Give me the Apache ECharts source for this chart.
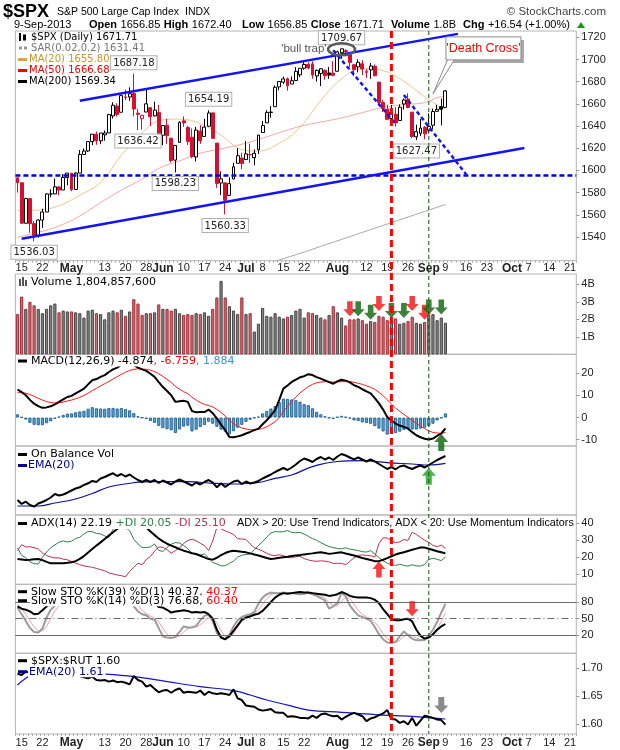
<!DOCTYPE html>
<html style="height: 100%">
<head>
<meta charset="utf-8">
</head>
<body style="height: 100%; margin: 0; background: #fff">
<div id="container" style="width: 620px; height: 750px"></div>
<script type="text/javascript" src="https://cdn.jsdelivr.net/npm/echarts@6/dist/echarts.min.js"></script>
<script type="text/javascript">
var dom = document.getElementById('container');
var myChart = echarts.init(dom);

// trading days from 12-Apr-2013, 135 slots (the last ones are empty future days)
var holidays = ['2013-05-27', '2013-07-04', '2013-09-02'];
var dates = [];
(function () {
  var d = new Date(Date.UTC(2013, 3, 12));
  while (dates.length < 135) {
    var s = d.toISOString().slice(0, 10);
    var wd = d.getUTCDay();
    if (wd !== 0 && wd !== 6 && holidays.indexOf(s) < 0) dates.push(s);
    d.setUTCDate(d.getUTCDate() + 1);
  }
})();

var xTickDates = ['2013-04-15','2013-04-22','2013-05-01','2013-05-13','2013-05-20','2013-05-28','2013-06-03','2013-06-10','2013-06-17','2013-06-24','2013-07-01','2013-07-08','2013-07-15','2013-07-22','2013-08-01','2013-08-12','2013-08-19','2013-08-26','2013-09-03','2013-09-09','2013-09-16','2013-09-23','2013-10-01','2013-10-07','2013-10-14','2013-10-21'];
var xTickText = ['15','22','May','13','20','28','Jun','10','17','24','Jul','8','15','22','Aug','12','19','26','Sep','9','16','23','Oct','7','14','21'];

var prevClose = 1593.37;
var opens = [1593.30,1588.84,1552.36,1574.57,1552.03,1541.61,1555.25,1562.50,1578.78,1578.78,
1585.16,1582.34,1593.58,1597.55,1582.77,1597.60,1614.40,1617.55,1625.95,1632.69,
1626.69,1632.10,1633.75,1649.13,1658.07,1652.45,1665.71,1666.20,1669.39,1651.62,
1646.67,1652.63,1656.57,1649.14,1652.13,1631.71,1640.73,1629.05,1609.29,1625.27,
1644.67,1638.64,1629.94,1612.15,1635.52,1630.64,1639.77,1651.83,1624.62,1588.62,
1588.77,1577.52,1592.27,1606.44,1611.12,1609.78,1614.29,1611.48,1618.65,1634.20,
1642.89,1652.28,1657.41,1675.26,1679.59,1682.70,1677.91,1681.05,1686.15,1692.09,
1695.53,1696.06,1685.21,1687.31,1690.32,1687.92,1687.76,1689.42,1706.10,1708.01,
1705.79,1695.30,1693.35,1696.10,1688.37,1690.65,1693.88,1679.61,1661.22,1655.25,
1646.81,1650.66,1645.03,1659.92,1664.29,1652.54,1630.25,1633.50,1638.89,1635.95,
1640.72,1653.28,1657.44,1656.85];
var highs = [1593.30,1588.84,1575.35,1574.57,1554.38,1555.89,1565.55,1579.58,1583.00,1592.64,
1585.78,1596.65,1597.57,1597.55,1598.60,1618.46,1619.77,1626.03,1632.78,1635.01,
1633.70,1636.00,1651.10,1661.49,1660.51,1667.47,1672.84,1674.93,1687.18,1655.50,
1649.78,1674.21,1656.57,1661.91,1658.99,1640.42,1646.53,1629.31,1622.56,1644.40,
1648.69,1640.13,1637.71,1639.25,1640.80,1646.50,1654.19,1652.45,1624.62,1599.19,
1588.77,1593.79,1606.83,1620.07,1615.94,1626.61,1624.26,1618.97,1632.07,1644.68,
1654.18,1657.92,1676.63,1680.19,1684.51,1683.73,1684.75,1693.12,1692.09,1697.61,
1697.53,1698.38,1690.94,1691.85,1690.92,1693.19,1698.43,1707.85,1709.67,1709.24,
1705.79,1695.30,1700.18,1699.42,1691.49,1696.81,1695.52,1679.61,1663.60,1659.18,
1658.92,1656.99,1659.55,1664.85,1669.51,1652.54,1641.18,1646.41,1640.08,1651.35,
1655.72,1659.17,1664.83,1672.40];
var lows = [1579.97,1552.28,1552.36,1543.69,1536.03,1539.40,1548.19,1562.50,1575.80,1578.78,
1577.56,1582.34,1586.50,1581.28,1582.77,1597.60,1614.21,1616.64,1622.70,1623.09,
1623.71,1626.74,1633.75,1646.68,1648.60,1652.45,1663.52,1662.67,1648.86,1636.42,
1636.88,1652.63,1640.05,1648.61,1630.74,1622.72,1623.62,1607.09,1598.23,1625.27,
1639.26,1622.92,1610.92,1608.07,1623.96,1630.34,1639.77,1628.91,1584.32,1577.70,
1560.33,1577.09,1592.27,1606.44,1601.06,1609.78,1606.77,1604.57,1614.71,1634.20,
1642.89,1647.66,1657.41,1672.33,1677.89,1671.84,1677.91,1681.05,1684.08,1690.67,
1691.13,1682.57,1680.07,1676.03,1681.86,1682.42,1684.94,1689.42,1700.68,1703.55,
1693.29,1684.91,1688.38,1686.02,1683.35,1682.62,1684.83,1658.59,1652.61,1645.84,
1646.08,1639.43,1645.03,1654.81,1656.02,1629.05,1627.47,1630.88,1628.05,1633.41,
1637.41,1653.07,1640.62,1656.85];
var closes = [1588.85,1552.36,1574.57,1552.01,1541.61,1555.25,1562.50,1578.78,1578.79,1585.16,
1582.24,1593.61,1597.57,1582.70,1597.59,1614.42,1617.50,1625.96,1632.69,1626.67,
1633.70,1633.77,1650.34,1658.78,1650.47,1667.47,1666.29,1669.16,1655.35,1650.51,
1649.60,1660.06,1648.36,1654.41,1630.74,1640.42,1631.38,1608.90,1622.56,1643.38,
1642.81,1626.13,1612.52,1636.36,1626.73,1639.04,1651.81,1628.93,1588.19,1592.43,
1573.09,1588.03,1603.26,1613.20,1606.28,1614.96,1614.08,1615.41,1631.89,1640.46,
1652.32,1652.62,1675.02,1680.19,1682.50,1676.26,1680.91,1689.37,1692.09,1695.53,
1692.39,1685.94,1690.25,1691.65,1685.33,1685.96,1685.73,1706.87,1709.67,1707.14,
1697.37,1690.91,1697.48,1691.42,1689.47,1694.16,1685.39,1661.32,1655.83,1646.06,
1652.35,1642.80,1656.96,1663.50,1656.78,1630.48,1634.96,1638.17,1632.97,1639.77,
1653.08,1655.08,1655.17,1671.71];

// volume in billions of shares
var volumes = [2.3,3.3,2.6,3.0,2.8,2.6,2.35,2.6,2.8,2.9,
2.4,2.5,2.45,2.45,2.4,2.35,2.1,2.5,2.55,2.35,
2.3,2.0,2.4,2.5,2.4,2.55,2.2,2.45,3.15,2.9,
2.25,2.35,2.35,2.4,2.85,2.6,2.6,2.5,2.6,2.35,
2.25,2.3,2.25,2.35,2.3,2.4,2.2,2.6,3.25,4.2,
3.25,2.75,2.5,2.3,3.25,2.3,2.35,1.3,1.75,2.65,
2.2,2.15,2.35,2.15,2.05,2.15,2.25,2.5,2.6,2.1,
2.4,2.35,2.25,2.1,2.0,2.25,2.75,2.4,2.1,1.65,
2.0,2.0,2.05,1.95,1.75,1.9,1.85,2.2,2.15,1.95,
1.9,2.05,1.75,1.8,1.9,2.15,1.8,1.75,1.85,2.25,
2.3,1.95,2.1,1.805];

// moving averages, read weekly: [day index, value]
var ma20Pts = [[0,1563.8],[5,1564.2],[10,1568.2],[15,1577.6],[20,1589.3],[25,1613.6],[30,1633.7],[34,1644.8],[39,1646.3],[44,1642.2],[49,1631.7],[54,1618.8],[58,1617.4],[63,1624.4],[68,1638.7],[73,1663.0],[78,1682.6],[83,1691.8],[88,1690.0],[93,1680.3],[98,1666.3],[102,1656.8],[103,1655.8]];
var ma50Pts = [[0,1539.8],[5,1544.1],[10,1549.9],[15,1558.9],[20,1571.0],[25,1582.2],[30,1592.2],[34,1601.8],[39,1608.6],[44,1615.5],[49,1619.4],[54,1623.6],[58,1627.8],[63,1634.0],[68,1639.7],[73,1643.6],[78,1647.3],[83,1652.1],[88,1656.9],[93,1659.3],[98,1661.1],[102,1666.5],[103,1666.68]];
var ma200Pts = [[55,1509.5],[58,1513.0],[63,1519.3],[68,1525.2],[73,1531.5],[78,1537.8],[83,1544.1],[88,1550.4],[93,1556.7],[98,1563.0],[103,1569.34]];

// drawn lines on the price panel: [day index, price]
var channelTop = [[15,1662.9],[106,1723.1]];
var channelBottom = [[1,1538.4],[122,1620.3]];
var downTrend1 = [[76,1708.4],[91,1641.9]];
var downTrend2 = [[93,1668.0],[108,1596.4]];
var supportLevel = 1595.3;
var noteIdx = [4, 28, 29, 38, 46, 50, 78, 96];
var noteValue = [1536.03, 1687.18, 1636.42, 1598.23, 1654.19, 1560.33, 1709.67, 1627.47];

var macdLine = [12.7,11.5,10.1,8.0,6.3,5.2,4.4,4.6,5.1,6.0,
7.1,8.2,9.3,9.8,10.9,12.0,13.1,15.0,16.9,17.4,
18.4,19.2,20.6,21.8,22.6,23.8,24.4,24.6,23.8,22.6,
21.8,21.1,19.8,18.4,16.0,13.8,12.0,10.1,7.1,7.4,
7.6,7.1,2.9,2.4,2.5,2.5,3.6,2.0,-0.5,-3.2,
-5.7,-8.8,-8.9,-8.5,-8.0,-7.2,-6.5,-5.7,-5.0,-3.0,
-1.2,1.0,3.3,8.0,13.1,14.5,16.1,17.2,18.2,18.7,
19.6,19.2,18.3,17.6,16.8,16.0,15.3,16.4,17.1,16.7,
15.9,14.6,13.9,12.8,11.8,10.9,8.8,6.4,3.6,0.3,
-1.3,-2.7,-3.6,-4.2,-5.0,-6.6,-8.0,-8.9,-9.6,-9.9,
-9.5,-8.3,-7.2,-4.874];
var macdSignal = [11.2,11.3,11.0,10.4,9.6,8.7,7.9,7.2,6.8,6.6,
6.7,7.0,7.5,7.9,8.5,9.2,10.0,11.0,12.2,13.2,
14.3,15.3,16.3,17.4,18.5,19.5,20.5,21.3,21.8,22.0,
21.9,21.8,21.4,20.8,19.8,18.6,17.3,15.9,14.1,12.8,
11.7,10.8,9.2,7.9,6.8,5.9,5.5,4.8,3.7,2.3,
0.7,-1.2,-2.7,-3.9,-4.7,-5.2,-5.5,-5.5,-5.4,-4.9,
-4.2,-3.1,-1.9,0.1,2.7,5.1,7.3,9.3,11.1,12.6,
14.0,15.0,15.7,16.1,16.2,16.2,16.0,16.1,16.3,16.4,
16.3,15.9,15.5,15.0,14.3,13.7,12.7,11.4,9.9,8.0,
6.1,4.3,2.8,1.4,0.1,-1.3,-2.6,-3.9,-5.0,-6.0,
-6.7,-7.0,-7.1,-6.759];
var macdHist = [1.5,0.2,-0.9,-2.4,-3.3,-3.5,-3.5,-2.6,-1.7,-0.6,
0.4,1.2,1.8,1.9,2.4,2.8,3.1,4.0,4.7,4.2,
4.1,4.0,4.3,4.4,4.1,4.3,3.9,3.3,2.0,0.6,
-0.1,-0.7,-1.6,-2.4,-3.8,-4.8,-5.3,-5.8,-7.0,-5.4,
-4.1,-3.7,-6.3,-5.5,-4.3,-3.4,-1.9,-2.8,-4.2,-5.5,
-6.4,-7.6,-6.2,-4.6,-3.3,-2.0,-1.0,-0.2,0.4,1.9,
3.0,4.1,5.2,7.0,8.6,8.4,8.2,7.9,7.2,6.1,
5.6,4.2,2.6,1.5,0.6,-0.2,-0.7,0.3,0.8,0.3,
-0.4,-1.3,-1.6,-2.2,-2.5,-2.8,-3.9,-5.0,-6.3,-7.7,
-7.4,-7.0,-6.4,-5.6,-5.1,-5.4,-5.4,-5.0,-4.6,-3.9,
-2.8,-1.3,-0.2,1.884];

// on balance volume, relative units
var obv = [4.35,3.19,3.86,2.90,2.41,3.33,3.77,4.35,5.07,6.09,
5.65,5.94,6.46,7.10,7.68,8.03,8.70,9.19,9.86,9.57,
10.58,11.01,11.59,12.09,11.30,11.88,11.16,11.74,10.87,10.14,
9.57,10.14,9.57,10.14,9.28,10.0,9.42,8.84,9.71,10.29,
9.71,9.13,8.55,9.42,8.84,9.57,10.14,9.42,8.03,9.19,
8.12,8.99,9.71,10.0,8.99,9.71,9.13,9.42,9.86,10.58,
11.16,11.74,12.46,13.04,13.62,13.04,13.77,14.64,15.65,16.38,
15.94,15.36,16.23,16.81,16.09,16.67,15.94,16.96,17.68,17.25,
16.67,16.14,16.67,16.09,15.51,16.09,15.51,14.78,14.06,13.33,
13.91,13.25,14.06,14.35,13.77,13.33,13.91,14.35,13.77,14.49,
15.22,15.94,16.52,17.10];
var obvEmaPts = [[0,2.61],[5,2.61],[9,3.48],[14,4.64],[18,6.23],[22,8.12],[28,9.36],[33,9.65],[41,9.65],[47,9.19],[52,8.99],[58,9.42],[62,10.64],[66,11.59],[70,13.6],[72,14.4],[77,15.5],[83,15.74],[89,15.16],[95,14.78],[99,14.49],[103,14.99]];

var adx = [18.9,18.6,18.3,18.4,18.7,18.9,18.2,17.2,16.3,16.3,
16.3,16.4,16.6,16.9,17.6,18.9,20.6,22.7,24.8,26.8,
28.7,30.7,32.7,34.7,36.6,38.6,40.6,41.8,42.2,41.5,
39.5,37.5,35.2,33.0,31.0,29.3,27.9,26.8,25.8,24.7,
23.8,23.1,22.3,21.9,20.8,19.8,18.8,18.5,19.6,21.2,
22.4,23.3,23.8,23.5,23.1,22.8,22.2,21.5,20.9,20.2,
19.5,18.9,19.2,19.6,19.9,20.2,20.6,20.9,21.2,21.6,
21.9,22.2,22.6,22.8,22.4,21.9,22.2,22.5,22.8,22.1,
21.5,20.9,20.2,19.5,18.9,18.3,17.6,17.6,18.4,19.4,
20.5,21.5,22.3,22.9,23.6,24.3,25.0,25.7,25.6,24.9,
24.2,23.5,22.9,22.19];
var plusDI = [25.5,21.0,19.7,17.2,16.1,15.9,19.8,23.0,25.5,27.2,
28.8,29.6,28.9,29.4,31.0,31.7,33.7,35.2,35.0,34.0,
33.7,32.5,31.7,36.5,38.0,38.6,37.6,35.5,30.5,27.8,
25.7,25.6,26.0,27.8,24.0,23.3,25.8,27.6,28.6,28.3,
26.8,25.0,22.4,21.2,21.2,21.9,19.5,16.8,15.9,14.8,
14.9,16.3,17.6,20.0,21.1,21.5,21.8,24.3,26.9,29.1,
31.9,34.3,35.1,34.9,35.0,35.7,34.6,34.4,34.6,33.6,
32.3,30.9,29.9,28.6,27.3,26.2,25.6,25.1,24.9,25.5,
24.7,24.3,23.9,23.2,23.0,23.8,21.9,19.8,17.8,16.4,
15.5,15.1,15.7,15.1,14.6,15.5,14.8,14.7,15.6,18.6,
19.3,18.7,17.9,20.05];
var minusDI = [23.7,27.3,26.0,26.1,25.6,24.8,22.5,20.9,20.1,19.5,
19.5,18.8,18.4,17.4,16.5,15.5,14.8,14.3,14.0,13.3,
12.6,11.9,10.6,10.0,9.4,9.0,8.3,11.5,14.0,16.4,
15.5,18.5,20.4,23.5,26.0,25.8,24.4,22.3,23.8,25.3,
28.1,29.8,30.6,29.6,28.2,26.8,23.8,29.6,37.6,36.8,
35.5,34.5,33.4,30.9,30.7,30.4,27.8,25.6,24.6,23.6,
22.2,21.2,20.9,21.4,20.9,19.8,19.6,20.3,20.5,19.1,
18.3,17.8,17.5,17.8,17.6,17.2,16.2,16.3,16.3,15.5,
17.5,19.6,21.0,21.3,21.0,20.8,20.0,28.0,31.4,31.3,
29.6,28.5,29.0,30.4,29.9,34.7,33.4,31.6,30.0,28.7,
26.9,26.1,27.1,25.10];

var sto39 = [72,68,66,63,58,59,65,72,78,82,
84,88,90,88,91,95,96,97,98,96,
98,98,99,99,96,99,98,98,92,88,
87,88,83,79,71,70,66,61,63,64,
65,64,61,62,61,62,58,50,30,16,
13,18,28,38,48,52,54,57,59,64,
72,80,88,93,96,95,96,97,98,97,
97,96,95,94,93,91,92,94,98,95,
91,89,88,88,88,87,84,78,67,58,
49,47,47,49,50,45,30,19,14,16,
22,30,36,40.37];
var sto14K = [70,58,46,33,26,25,32,52,66,73,
80,85,88,86,90,94,95,96,96,90,
92,92,95,96,92,96,94,93,72,63,
58,56,50,48,33,18,16,15,17,26,
36,34,34,37,47,55,57,45,24,16,
13,21,36,47,53,56,58,62,77,88,
94,97,96,96,97,96,96,95,94,95,
97,94,91,87,83,68,72,78,97,90,
74,64,56,53,50,46,35,22,13,7,
6,8,18,27,20,14,11,11,12,20,
30,44,61,76.68];
var sto14D = [75,68,58,46,35,28,28,36,50,64,
73,79,84,86,88,90,93,95,96,94,
93,91,93,94,94,95,94,94,86,76,
64,59,55,51,44,33,22,16,16,19,
26,32,35,35,39,46,53,52,42,28,
18,17,23,35,45,52,56,59,66,76,
86,93,96,96,96,96,96,96,95,95,
95,95,94,91,87,79,74,73,82,88,
87,76,65,58,53,50,44,34,23,14,
9,7,11,18,22,20,15,12,11,15,
21,31,45,60.40];

var spxRut = [1.690,1.688,1.694,1.692,1.696,1.698,1.699,1.697,1.700,1.698,
1.696,1.692,1.690,1.694,1.689,1.686,1.684,1.682,1.685,1.679,
1.678,1.679,1.676,1.678,1.675,1.676,1.674,1.671,1.686,1.679,
1.676,1.667,1.670,1.663,1.657,1.660,1.661,1.656,1.661,1.664,
1.656,1.658,1.657,1.656,1.660,1.652,1.658,1.655,1.654,1.655,
1.654,1.652,1.662,1.646,1.643,1.633,1.632,1.631,1.626,1.624,
1.625,1.627,1.621,1.620,1.620,1.613,1.614,1.613,1.611,1.611,
1.610,1.615,1.611,1.617,1.619,1.616,1.614,1.615,1.608,1.613,
1.617,1.620,1.617,1.614,1.605,1.610,1.612,1.616,1.619,1.625,
1.609,1.608,1.602,1.605,1.599,1.611,1.597,1.606,1.615,1.613,
1.611,1.608,1.607,1.599];
var spxRutEmaPts = [[0,1.670],[2,1.682],[4,1.690],[8,1.694],[12,1.694],[18,1.691],[28,1.685],[36,1.676],[44,1.667],[52,1.660],[56,1.652],[60,1.643],[65,1.634],[70,1.625],[78,1.621],[86,1.617],[94,1.614],[103,1.609]];

// signal arrows: [day index, value]
var volArrowsRed = [[80,2.6],[87,2.9],[95,2.9],[98,2.4]];
var volArrowsGreen = [[82,2.6],[85,2.4],[90,2.5],[93,2.5],[99,2.7],[102,2.7]];
var macdArrow = [[102,-11.3]];
var obvArrow = [[99,11.2]];
var adxArrow = [[87,12.7]];
var stoArrow = [[95,67.7]];
var ratioArrow = [[102,1.634]];

// --------------------------------------------------------------------------
var RED = '#d8102f';
var FONT = '"DejaVu Sans", Verdana, sans-serif';
var AFONT = '"Liberation Sans", Arial, sans-serif';
var ARROW_DOWN = 'path://M4,0 L10,0 L10,8 L14,8 L7,15 L0,8 L4,8 Z';
var ARROW_UP = 'path://M7,0 L14,7 L10,7 L10,15 L4,15 L4,7 L0,7 Z';

function pts(list) {
  return list.map(function (p) { return [dates[p[0]], p[1]]; });
}

var candleData = closes.map(function (c, i) {
  var prev = i ? closes[i - 1] : prevClose;
  var line = c >= prev ? '#000' : RED;
  var fill = c > opens[i] ? '#fff' : line;
  return {
    value: [opens[i], c, lows[i], highs[i]],
    itemStyle: {color: fill, color0: fill, borderColor: line, borderColor0: line, borderWidth: 1}
  };
});
var volumeData = volumes.map(function (v, i) {
  var prev = i ? closes[i - 1] : prevClose;
  var down = closes[i] < prev;
  return {value: v, itemStyle: {color: down ? '#cf6f74' : '#858585', borderColor: down ? '#a52a35' : '#464646', borderWidth: 1}};
});

var L = 15.4, R = 43.7;
var panels = [
  {top: 31, height: 229.7},
  {top: 274, height: 80.3},
  {top: 354.3, height: 91.7},
  {top: 446, height: 69},
  {top: 515, height: 69.3},
  {top: 584.3, height: 69},
  {top: 653.3, height: 80.7}
];

var tickMap = {};
xTickDates.forEach(function (d, i) { tickMap[d] = xTickText[i]; });

function xAxisFor(i) {
  var showLab = (i === 0 || i === 6);
  return {
    type: 'category', gridIndex: i, data: dates, boundaryGap: true,
    axisLine: {show: false},
    axisTick: {show: showLab, interval: 0, length: 2, lineStyle: {color: '#aaa'}},
    splitLine: {show: false},
    axisLabel: {
      show: showLab, margin: i === 0 ? 2 : 3,
      interval: function (idx, val) { return tickMap[val] !== undefined; },
      formatter: function (val) {
        var t = tickMap[val];
        return /^[A-Z]/.test(t) ? '{m|' + t + '}' : t;
      },
      fontFamily: AFONT, fontSize: 11, color: '#222',
      rich: {m: {fontFamily: AFONT, fontSize: 12, fontWeight: 'bold', color: '#222'}}
    }
  };
}
function yAxisFor(i, min, max, ticks, fmt) {
  var ax = {
    type: 'value', gridIndex: i, position: 'right', min: min, max: max,
    axisLine: {show: false}, splitLine: {show: false},
    axisTick: {show: false}, axisLabel: {show: false}
  };
  if (ticks) {
    ax.axisTick = {show: true, length: 3, lineStyle: {color: '#999'}, customValues: ticks};
    ax.axisLabel = {show: true, customValues: ticks, margin: 5, fontFamily: AFONT, fontSize: 11, color: '#222',
      formatter: fmt || function (v) { return String(v); }};
  }
  return ax;
}
function lineS(x, data, color, width, extra) {
  var s = {type: 'line', xAxisIndex: x, yAxisIndex: x, data: data, symbol: 'none',
    lineStyle: {color: color, width: width}, itemStyle: {color: color}, silent: true, z: 3};
  return Object.assign(s, extra || {});
}
function arrowS(x, data, path, color, size) {
  return {type: 'scatter', xAxisIndex: x, yAxisIndex: x, data: pts(data), symbol: path,
    symbolSize: size, itemStyle: {color: color}, clip: false, silent: true, z: 20};
}

var option = {
  animation: false,
  backgroundColor: '#fff',
  grid: panels.map(function (p) {
    return {left: L, right: R, top: p.top, height: p.height, show: true, borderColor: '#b5b5b5', borderWidth: 1, backgroundColor: 'transparent'};
  }),
  xAxis: panels.map(function (p, i) { return xAxisFor(i); }),
  yAxis: [
    yAxisFor(0, 1518.6, 1725.7, [1540, 1560, 1580, 1600, 1620, 1640, 1660, 1680, 1700, 1720]),
    yAxisFor(1, 0, 4.59, [1, 2, 3, 4], function (v) { return v + 'B'; }),
    yAxisFor(2, -12.85, 28.6, [-10, 0, 10, 20]),
    yAxisFor(3, 0, 20, null),
    yAxisFor(4, 3.9, 44.9, [10, 20, 30, 40]),
    yAxisFor(5, -12.4, 111.9, [20, 50, 80]),
    yAxisFor(6, 1.5821, 1.7268, [1.60, 1.65, 1.70], function (v) { return v.toFixed(2); })
  ],
  series: [
    lineS(0, pts(ma20Pts), '#eec68c', 1, {smooth: 0.4, connectNulls: true, z: 2}),
    lineS(0, pts(ma50Pts), '#f3a9a9', 1, {smooth: 0.4, connectNulls: true, z: 2}),
    lineS(0, pts(ma200Pts), '#a9a9a9', 1, {smooth: 0.4, connectNulls: true, z: 2}),
    {
      type: 'candlestick', xAxisIndex: 0, yAxisIndex: 0, data: candleData, barWidth: 3.4, z: 4, silent: true,
      markPoint: {
        symbol: 'rect', symbolSize: 1, itemStyle: {color: 'rgba(0,0,0,0)'}, silent: true,
        label: {show: true, formatter: '{c}', fontFamily: FONT, fontSize: 10, color: '#222', backgroundColor: '#fff', borderColor: '#b0b0b0', borderWidth: 1, padding: [2, 2, 1, 2]},
        data: noteIdx.map(function (d, k) {
          var v = noteValue[k];
          return {coord: [dates[d], v], value: v.toFixed(2), label: {position: highs[d] === v ? 'top' : 'bottom', distance: 4}};
        })
      },
      markLine: {
        symbol: 'none', silent: true, label: {show: false},
        lineStyle: {color: '#0000ee', width: 2.5, type: [5, 3]},
        data: [{yAxis: supportLevel}]
      }
    },
    lineS(0, pts(channelTop), '#1414f0', 2.5, {z: 5}),
    lineS(0, pts(channelBottom), '#1414f0', 2.5, {z: 5}),
    lineS(0, pts(downTrend1), '#1414f0', 2.5, {z: 5, lineStyle: {color: '#1414f0', width: 2.5, type: [4, 3]}}),
    lineS(0, pts(downTrend2), '#1414f0', 2.5, {z: 5, lineStyle: {color: '#1414f0', width: 2.5, type: [4, 3]}}),

    {type: 'bar', xAxisIndex: 1, yAxisIndex: 1, data: volumeData, barWidth: 3.2, silent: true},
    arrowS(1, volArrowsRed, ARROW_DOWN, '#f01010', [13, 15]),
    arrowS(1, volArrowsGreen, ARROW_DOWN, '#0a640a', [13, 15]),

    {type: 'bar', xAxisIndex: 2, yAxisIndex: 2, data: macdHist, barWidth: 3.2, silent: true,
      itemStyle: {color: '#5aa7da', borderColor: '#2a6796', borderWidth: 1}},
    lineS(2, macdSignal, '#ff1a1a', 1),
    lineS(2, macdLine, '#000', 2),
    arrowS(2, macdArrow, ARROW_UP, '#0a640a', [14, 17]),

    lineS(3, pts(obvEmaPts), '#10109a', 1.2, {smooth: 0.4, connectNulls: true}),
    lineS(3, obv, '#000', 2),
    arrowS(3, obvArrow, ARROW_UP, '#1ea01e', [14, 17]),

    lineS(4, plusDI, '#2e8049', 1),
    lineS(4, minusDI, '#b8324f', 1),
    lineS(4, adx, '#000', 2),
    arrowS(4, adxArrow, ARROW_UP, '#f01010', [13, 16]),

    lineS(5, sto14D, '#f2a0a0', 1, {
      markLine: {
        symbol: 'none', silent: true, label: {show: false}, lineStyle: {color: '#6a6a6a', width: 1, type: 'solid'},
        data: [{yAxis: 80}, {yAxis: 20}, {yAxis: 50, lineStyle: {color: '#6a6a6a', width: 1, type: [7, 3, 1, 3]}}]
      }
    }),
    lineS(5, sto14K, '#9c9c9c', 2),
    lineS(5, sto39, '#000', 2),
    arrowS(5, stoArrow, ARROW_DOWN, '#f01010', [13, 15]),

    lineS(6, pts(spxRutEmaPts), '#1414c8', 1.2, {smooth: 0.4, connectNulls: true}),
    lineS(6, spxRut, '#000', 2),
    arrowS(6, ratioArrow, ARROW_DOWN, '#6e6e6e', [14, 16])
  ]
};

if (option && typeof option === 'object') {
  myChart.setOption(option);
}

// ---- texts, legends and hand drawn marks --------------------------------
function txt(x, y, text, o) {
  return {type: 'text', x: x, y: y, z: 100, silent: true, style: Object.assign({
    text: text, fill: '#000', font: '11px ' + FONT,
    align: 'left', verticalAlign: 'middle', textAlign: 'left', textVerticalAlign: 'middle'
  }, o || {})};
}
function rect(x, y, w, h, fill, o) {
  return {type: 'rect', z: 100, silent: true, shape: {x: x, y: y, width: w, height: h}, style: Object.assign({fill: fill}, o || {})};
}
function marker(y, color) { return rect(18, y - 1.5, 9, 3, color); }
function legendRich(x, y, text, rich, o) {
  return txt(x, y, text, Object.assign({rich: rich, backgroundColor: '#fff', padding: [0, 2, 0, 1]}, o || {}));
}
var rk = function (c) { return {fill: c, font: '11px ' + FONT}; };
var small = {font: '10px ' + FONT};

var g = [];
// header
g.push(txt(3, 12, '$SPX', {font: 'bold 18px ' + AFONT}));
g.push(txt(57, 12, 'S&P 500 Large Cap Index', {font: '10.5px ' + AFONT}));
g.push(txt(185, 12, 'INDX', {font: '10.5px ' + AFONT}));
g.push(txt(606, 12, '\u00a9 StockCharts.com', {font: '11.5px ' + AFONT, fill: '#444', align: 'right', textAlign: 'right'}));
var hn = {fill: '#000', font: '11px ' + AFONT};
var hb = {fill: '#000', font: 'bold 11px ' + AFONT};
g.push(txt(14, 25, '{n|9-Sep-2013}     {b|Open} {n|1656.85} {b|High} {n|1672.40}   {b|Low} {n|1656.85} {b|Close} {n|1671.71}  {b|Volume} {n|1.8B}  {b|Chg} {n|+16.54 (+1.00%)}',
  {rich: {n: hn, b: hb}}));
g.push({type: 'polygon', z: 100, silent: true, shape: {points: [[577, 28], [581, 22], [585, 28]]}, style: {fill: '#1a9a1a'}});

// price legend
g.push(rect(19, 33, 2, 8, '#000'));
g.push(rect(23, 34.5, 3, 6, '#000'));
g.push(txt(31, 37.5, '$SPX (Daily) 1671.71', small));
g.push(rect(19, 46.5, 3, 3, '#999'));
g.push(rect(24, 46.5, 3, 3, '#999'));
g.push(txt(31, 48.5, 'SAR(0.02,0.2) 1631.41', {font: '10px ' + FONT, fill: '#777'}));
g.push(marker(59.5, '#d8a848'));
g.push(txt(29, 59.5, 'MA(20) 1655.80', {font: '10px ' + FONT, fill: '#c8962e'}));
g.push(marker(70.5, '#f00'));
g.push(txt(29, 70.5, 'MA(50) 1666.68', {font: '10px ' + FONT, fill: '#e80000'}));
g.push(marker(81.5, '#000'));
g.push(txt(29, 81.5, 'MA(200) 1569.34', small));

// volume legend
g.push(rect(19, 279, 2, 7, '#555'));
g.push(rect(22, 277, 2, 9, '#555'));
g.push(rect(25, 280, 2, 6, '#555'));
g.push(legendRich(30, 282, 'Volume 1,804,857,600', {}));

// MACD legend
g.push(marker(361, '#000'));
g.push(legendRich(30, 361, '{k|MACD(12,26,9) -4.874}{r|, -6.759}{b|, 1.884}', {k: rk('#000'), r: rk('#f00'), b: rk('#3a94d0')}));

// OBV legend
g.push(marker(454.5, '#000'));
g.push(legendRich(30, 454.5, 'On Balance Vol', {}));
g.push(marker(465.5, '#00008b'));
g.push(txt(28, 465.5, 'EMA(20)', {fill: '#00008b'}));

// ADX legend
g.push(marker(523.5, '#000'));
g.push(legendRich(30, 523.5, '{k|ADX(14) 22.19 }{g|+DI 20.05 }{r|-DI 25.10}', {k: rk('#000'), g: rk('#2e8049'), r: rk('#b8324f')}));
g.push(txt(236, 523.5, 'ADX > 20: Use Trend Indicators, ADX < 20: Use Momentum Indicators', {font: '10.8px ' + AFONT, backgroundColor: '#fff', padding: [0, 1]}));

// STO legend
g.push(marker(591.7, '#000'));
g.push(legendRich(30, 591.7, '{k|Slow STO %K(39) %D(1) 40.37, }{r|40.37}', {k: rk('#000'), r: rk('#f00')}));
g.push(marker(600.7, '#000'));
g.push(legendRich(30, 600.7, '{k|Slow STO %K(14) %D(3) 76.68, }{r|60.40}', {k: rk('#000'), r: rk('#f00')}));

// ratio legend
g.push(marker(660.7, '#000'));
g.push(legendRich(30, 660.7, '$SPX:$RUT 1.60', {}));
g.push(marker(671.7, '#00008b'));
g.push(legendRich(28, 671.7, 'EMA(20) 1.61', {}, {fill: '#00008b'}));

// vertical event lines through all panels
var xRed = myChart.convertToPixel({xAxisIndex: 0}, '2013-08-20');
var xGreen = myChart.convertToPixel({xAxisIndex: 0}, '2013-09-03');
g.push({type: 'line', z: 60, silent: true, shape: {x1: xGreen, y1: 31, x2: xGreen, y2: 734}, style: {stroke: '#0a5a0a', lineWidth: 1, lineDash: [4, 3]}});
g.push({type: 'line', z: 60, silent: true, shape: {x1: xRed, y1: 31, x2: xRed, y2: 734}, style: {stroke: '#ff0000', lineWidth: 3, lineDash: [7, 4]}});

// bull trap ellipse
var bt = myChart.convertToPixel({gridIndex: 0}, ['2013-08-02', 1709.2]);
g.push({type: 'ellipse', z: 50, silent: true, shape: {cx: bt[0], cy: bt[1], rx: 13.5, ry: 6}, style: {fill: 'none', stroke: '#5a5a5a', lineWidth: 2.5}});
g.push(txt(bt[0] - 15, bt[1], "'bull trap'", {font: '11.5px ' + AFONT, fill: '#555', align: 'right', textAlign: 'right'}));

// death cross callout
var dc = myChart.convertToPixel({gridIndex: 0}, ['2013-09-04', 1669]);
var bx = dc[0] + 13, by = dc[1] - 57, bw = 75, bh = 23;
g.push(rect(bx + 3, by + 3, bw, bh, '#a8a8a8', {}));
g.push({type: 'polygon', z: 100, silent: true, shape: {points: [[dc[0], dc[1]], [bx + 2, by + bh - 1], [bx + 9, by + bh - 1]]}, style: {fill: '#fff', stroke: '#8a8a8a', lineWidth: 1}});
g.push(rect(bx, by, bw, bh, '#fff', {stroke: '#8a8a8a', lineWidth: 1}));
g.push(txt(bx + bw / 2, by + bh / 2, "'Death Cross'", {font: '12.5px ' + AFONT, fill: '#f00', align: 'center', textAlign: 'center'}));

myChart.setOption({graphic: {elements: g}});
</script>
</body>
</html>
